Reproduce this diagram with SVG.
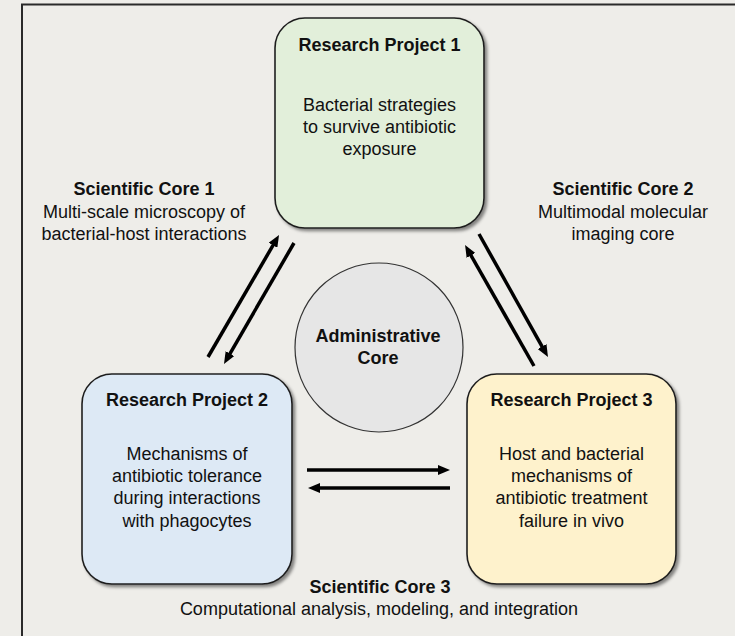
<svg xmlns="http://www.w3.org/2000/svg" width="735" height="636" viewBox="0 0 735 636">
<defs>
<style>
text{font-family:"Liberation Sans",Arial,Helvetica,sans-serif;font-size:18px;fill:#111;text-anchor:middle}
.b{font-weight:bold}
.box{stroke:#1f1f1f;stroke-width:1.6}
.con{stroke:#000;stroke-width:3.5;fill:none}
</style>
<filter id="sh" x="-10%" y="-10%" width="130%" height="130%">
<feDropShadow dx="2.5" dy="2.5" stdDeviation="1.5" flood-color="#000" flood-opacity="0.45"/>
</filter>
<marker id="ah" markerUnits="userSpaceOnUse" viewBox="0 -5 12 10" markerWidth="12" markerHeight="10" refX="2" refY="0" orient="auto">
<path d="M0,-5 L12,0 L0,5 z" fill="#000"/>
</marker>
</defs>
<rect x="0" y="0" width="735" height="636" fill="#eeede9"/>
<path d="M22,636 V4.5 H735" fill="none" stroke="#2a2a2a" stroke-width="2"/>

<g id="rp1">
<rect class="box" x="275" y="18" width="209" height="210" rx="30" fill="#e2efda" filter="url(#sh)"/>
<text class="b" x="379.5" y="51">Research Project 1</text>
<text x="379.5" y="111">Bacterial strategies</text>
<text x="379.5" y="133">to survive antibiotic</text>
<text x="379.5" y="155">exposure</text>
</g>

<g id="rp2">
<rect class="box" x="82" y="374" width="210" height="210" rx="30" fill="#dde9f5" filter="url(#sh)"/>
<text class="b" x="187" y="406">Research Project 2</text>
<text x="187" y="460">Mechanisms of</text>
<text x="187" y="482">antibiotic tolerance</text>
<text x="187" y="504">during interactions</text>
<text x="187" y="527">with phagocytes</text>
</g>

<g id="rp3">
<rect class="box" x="467" y="374" width="209" height="210" rx="30" fill="#fef2cc" filter="url(#sh)"/>
<text class="b" x="571.5" y="406">Research Project 3</text>
<text x="571.5" y="460">Host and bacterial</text>
<text x="571.5" y="482">mechanisms of</text>
<text x="571.5" y="504">antibiotic treatment</text>
<text x="571.5" y="527">failure in vivo</text>
</g>

<g id="admin">
<ellipse cx="379" cy="347.5" rx="84" ry="84.5" fill="#e6e6e6" stroke="#333" stroke-width="1.2"/>
<text class="b" x="378" y="342">Administrative</text>
<text class="b" x="378" y="364">Core</text>
</g>

<g id="sc1">
<text class="b" x="144" y="195">Scientific Core 1</text>
<text x="144" y="218">Multi-scale microscopy of</text>
<text x="144" y="240">bacterial-host interactions</text>
</g>

<g id="sc2">
<text class="b" x="623" y="195">Scientific Core 2</text>
<text x="623" y="218">Multimodal molecular</text>
<text x="623" y="240">imaging core</text>
</g>

<g id="sc3">
<text class="b" x="380" y="593">Scientific Core 3</text>
<text x="379" y="615">Computational analysis, modeling, and integration</text>
</g>

<g id="connectors">
<line class="con" x1="208" y1="357" x2="274" y2="243.6" marker-end="url(#ah)"/>
<line class="con" x1="294" y1="243" x2="229" y2="355.3" marker-end="url(#ah)"/>
<line class="con" x1="534" y1="366" x2="470" y2="253.7" marker-end="url(#ah)"/>
<line class="con" x1="479" y1="234" x2="543.1" y2="348.3" marker-end="url(#ah)"/>
<line class="con" x1="307" y1="470" x2="440" y2="470" marker-end="url(#ah)"/>
<line class="con" x1="450" y1="488" x2="318" y2="488" marker-end="url(#ah)"/>
</g>
</svg>
